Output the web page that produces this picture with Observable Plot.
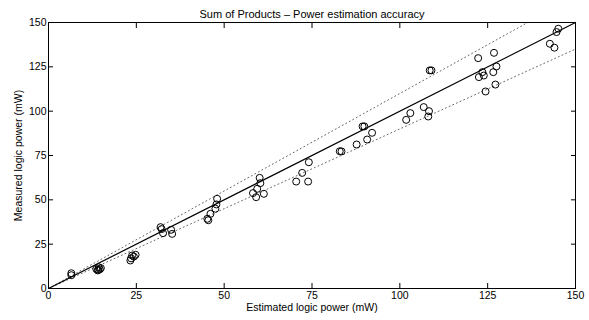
<!DOCTYPE html>
<html>
<head>
<meta charset="utf-8">
<script src="https://cdn.jsdelivr.net/npm/d3@7"></script>
<script src="https://cdn.jsdelivr.net/npm/@observablehq/plot@0.6"></script>
<style>
  html, body { margin: 0; padding: 0; background: #fff; }
  svg { font-family: "Liberation Sans", Arial, sans-serif; }
</style>
</head>
<body>
<div id="chart"></div>
<script>
const title = "Sum of Products \u2013 Power estimation accuracy";
const xLabel = "Estimated logic power (mW)";
const yLabel = "Measured logic power (mW)";
const tickValues = [0, 25, 50, 75, 100, 125, 150];

const estimated = [
  6.5, 6.5,
  13.6, 14.0, 14.3, 14.6, 14.9, 14.2,
  23.3, 23.5, 23.8, 24.3, 24.8,
  31.9, 32.6, 34.9, 35.2, 32.2,
  45.2, 45.5, 46.1, 47.5, 47.8, 48.0,
  58.2, 59.1, 59.4, 60.3, 60.1, 61.3,
  70.5, 72.2, 73.9, 74.1,
  82.9, 83.4,
  87.7, 89.4, 89.9, 90.7, 92.1,
  101.8, 103.0,
  106.8, 108.1, 108.3, 108.5, 109.0,
  122.3, 122.5, 123.5, 123.9, 124.4, 126.6, 126.8, 127.2, 127.5,
  142.7, 144.0, 144.6, 145.1
];
const measured = [
  8.6, 7.5,
  11.0, 10.2, 12.0, 10.8, 11.5, 10.5,
  15.8, 17.0, 18.6, 18.0, 19.0,
  34.6, 31.2, 33.1, 30.8, 33.5,
  39.3, 38.5, 42.1, 45.0, 47.4, 50.6,
  53.8, 51.5, 56.2, 59.4, 62.4, 53.4,
  60.3, 65.2, 60.3, 71.2,
  77.4, 77.3,
  81.2, 91.4, 91.4, 84.0, 87.8,
  95.1, 98.9,
  102.3, 97.0, 100.0, 123.0, 123.0,
  129.9, 119.2, 122.0, 120.1, 111.1, 122.0, 132.9, 115.0, 125.2,
  138.0, 135.8, 144.6, 146.5
];
const points = estimated.map((e, i) => ({e, m: measured[i]}));

const idealLine = [{e: 0, m: 0}, {e: 150, m: 150}];
const upperBound = [{e: 0, m: 0}, {e: 136.4, m: 150}];
const lowerBound = [{e: 0, m: 0}, {e: 150, m: 135}];

const plot = Plot.plot({
  width: 589,
  height: 320,
  marginLeft: 48,
  marginRight: 14,
  marginTop: 22,
  marginBottom: 32,
  style: {fontFamily: '"Liberation Sans", Arial, sans-serif', fontSize: "10px", color: "black", background: "white"},
  x: {domain: [0, 150]},
  y: {domain: [0, 150]},
  marks: [
    Plot.line(upperBound, {x: "e", y: "m", stroke: "#666", strokeWidth: 1, strokeDasharray: "1,3", clip: true}),
    Plot.line(lowerBound, {x: "e", y: "m", stroke: "#666", strokeWidth: 1, strokeDasharray: "1,3", clip: true}),
    Plot.line(idealLine, {x: "e", y: "m", stroke: "black", strokeWidth: 1.2}),
    Plot.dot(points, {x: "e", y: "m", r: 3.5, stroke: "black", strokeWidth: 1, fill: "none"}),
    Plot.frame({stroke: "black", strokeWidth: 1}),
    Plot.axisX({anchor: "bottom", ticks: tickValues, tickSize: -5, tickPadding: 8, label: xLabel, labelAnchor: "center", labelArrow: "none", labelOffset: 22, fontSize: 10.5}),
    Plot.axisX({anchor: "top", ticks: tickValues, tickSize: -5, text: null, label: null}),
    Plot.axisY({anchor: "left", ticks: tickValues, tickSize: -5, tickPadding: 7, label: yLabel, labelAnchor: "center", labelArrow: "none", labelOffset: 34, fontSize: 10.5}),
    Plot.axisY({anchor: "right", ticks: tickValues, tickSize: -5, text: null, label: null}),
    Plot.text([title], {frameAnchor: "top", dy: -5, fontSize: 11, lineAnchor: "bottom", text: d => d})
  ]
});
document.getElementById("chart").appendChild(plot);
</script>
</body>
</html>
